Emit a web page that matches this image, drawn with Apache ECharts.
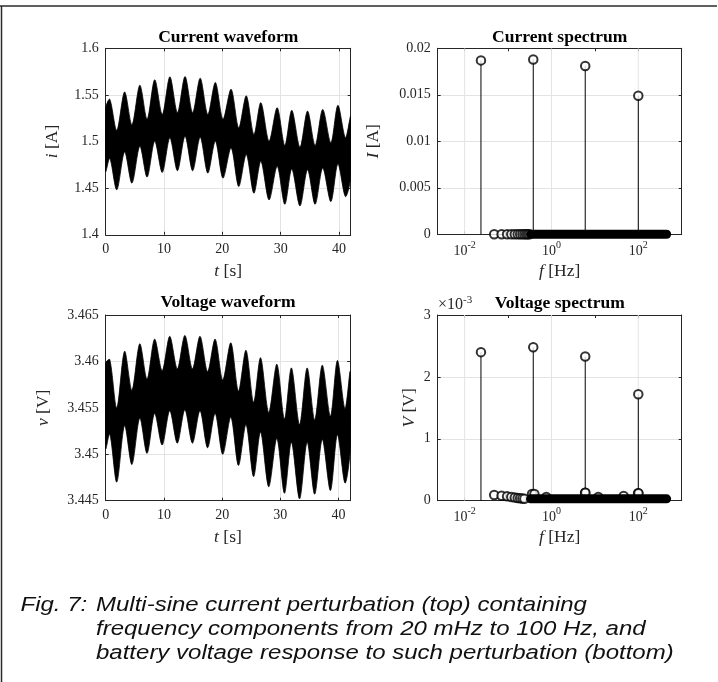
<!DOCTYPE html>
<html><head><meta charset="utf-8">
<script src="https://cdn.jsdelivr.net/npm/echarts@6/dist/echarts.min.js"></script>
<style>html,body{margin:0;padding:0;background:#fff}#c{width:718px;height:682px}</style>
</head><body><div id="c"></div>
<script>
// ---- data ----
const waveT = [0, 0.7, 1.9, 3.24, 4.5, 5.85, 7.1, 8.4, 9.7, 11.0, 12.3, 13.6, 14.9, 16.2, 17.5, 18.8, 20.1,
  21.5, 22.8, 24.1, 25.4, 26.6, 28.0, 29.4, 30.7, 31.9, 33.3, 34.6, 35.9, 37.2, 38.6, 39.8, 41.1, 42];
const curUpper = [1.536, 1.5453, 1.512, 1.5532, 1.518, 1.5604, 1.524, 1.5662, 1.529, 1.5694, 1.531, 1.5698, 1.531,
  1.568, 1.529, 1.5633, 1.524, 1.5561, 1.5147, 1.549, 1.5076, 1.5417, 1.5004, 1.5363, 1.4957, 1.5335, 1.4939,
  1.5327, 1.4957, 1.5345, 1.4986, 1.5388, 1.504, 1.527];
const curLower = [1.468, 1.482, 1.4482, 1.4888, 1.4554, 1.495, 1.4619, 1.5004, 1.4669, 1.504, 1.4687, 1.5058,
  1.4687, 1.5047, 1.4662, 1.5004, 1.4608, 1.4932, 1.4518, 1.486, 1.4446, 1.4788, 1.4374, 1.4734, 1.4327, 1.4705,
  1.4309, 1.4698, 1.4327, 1.4716, 1.4356, 1.4759, 1.441, 1.462];
const voltUpper = [3.4598, 3.4602, 3.455, 3.4611, 3.4569, 3.4619, 3.4581, 3.4624, 3.459, 3.4627, 3.4592, 3.4628,
  3.4592, 3.4627, 3.4589, 3.4624, 3.458, 3.462, 3.4568, 3.4612, 3.4556, 3.4604, 3.4545, 3.4597, 3.4538, 3.4593,
  3.4532, 3.4593, 3.4537, 3.4596, 3.4541, 3.4601, 3.4549, 3.4589];
const voltLower = [3.4506, 3.4522, 3.447, 3.4531, 3.4489, 3.4539, 3.4501, 3.4544, 3.451, 3.4547, 3.4512, 3.4548,
  3.4512, 3.4547, 3.4507, 3.4544, 3.45, 3.454, 3.4488, 3.4532, 3.4476, 3.4524, 3.4465, 3.4517, 3.4458, 3.4513,
  3.4452, 3.4513, 3.4457, 3.4516, 3.4461, 3.4521, 3.4469, 3.4505];

const stemFreq = [0.0238, 0.381, 6.0, 100];
const curStem = [0.0187, 0.0188, 0.0181, 0.0149];
const voltStem = [0.00240, 0.00248, 0.00233, 0.00172];
const zeroFreq = [0.048, 0.071, 0.095, 0.119, 0.143, 0.167, 0.19, 0.214, 0.238, 0.262, 0.286, 0.31];
const bandFreq = [0.33, 450];
const voltSmallFreq = [0.048, 0.071, 0.095, 0.119, 0.143, 0.167, 0.19, 0.214, 0.238, 0.357, 0.405, 0.76, 5.95, 6.05, 12, 46, 99, 101];
const voltSmallVal = [0.000092, 0.00008, 0.00007, 0.00006, 0.00005, 0.000045, 0.00004, 0.000035, 0.00003, 0.00011, 0.00011,
  0.00006, 0.00013, 0.00013, 0.00006, 0.000075, 0.00012, 0.00012];
const voltBandLevel = 0.00003;
const freqGridTicks = [0.01, 1, 100];   // labelled decades (10^-2, 10^0, 10^2)

const titles = ['Current waveform', 'Current spectrum', 'Voltage waveform', 'Voltage spectrum'];
const captionLead = 'Fig. 7:';
const caption = ['Multi-sine current perturbation (top) containing',
  'frequency components from 20 mHz to 100 Hz, and',
  'battery voltage response to such perturbation (bottom)'];

// ---- chart ----
const SERIF = '"Liberation Serif", "Times New Roman", serif';
const AX = '#262626';
const GRIDC = '#e3e3e3';
const TICK = 14, NAME = 17.5;
const grids = [
  {left: 105.7, top: 48.3, width: 245, height: 186.5},
  {left: 437.7, top: 48.3, width: 244, height: 186},
  {left: 105.7, top: 315, width: 244.5, height: 185.7},
  {left: 437.7, top: 315, width: 244, height: 185.7}
];
const rich = {
  it: {fontFamily: SERIF, fontSize: NAME, color: AX, fontStyle: 'italic'}
};
const logRich = {
  b: {fontFamily: SERIF, fontSize: TICK, color: AX, lineHeight: 22},
  s: {fontFamily: SERIF, fontSize: 10, color: AX, verticalAlign: 'top', lineHeight: 11}
};
function baseAxis(gi, pos) {
  return {
    gridIndex: gi, position: pos,
    axisLine: {show: true, onZero: false, lineStyle: {color: AX, width: 1}},
    axisTick: {show: true, inside: true, length: 3, lineStyle: {color: AX}},
    splitLine: {show: false},
    axisLabel: {show: false},
    name: ''
  };
}
const xAxis = [], yAxis = [];
function addX(gi, opt, name, split) {
  const a = Object.assign(baseAxis(gi, 'bottom'), opt, {
    splitLine: {show: split, lineStyle: {color: GRIDC, width: 1}},
    name: name, nameLocation: 'middle', nameGap: 28,
    nameTextStyle: {fontFamily: SERIF, fontSize: NAME, color: AX, rich: rich}
  });
  a.axisLabel = Object.assign({show: true, fontFamily: SERIF, fontSize: TICK, color: AX, margin: 8,
    showMaxLabel: false}, opt.axisLabel || {});
  xAxis.push(a);
  const b = Object.assign(baseAxis(gi, 'top'), opt);
  b.axisLabel = {show: false};
  xAxis.push(b);
}
function addY(gi, opt, name, gap) {
  const a = Object.assign(baseAxis(gi, 'left'), opt, {
    splitLine: {show: true, lineStyle: {color: GRIDC, width: 1}},
    name: name, nameLocation: 'middle', nameGap: gap,
    nameTextStyle: {fontFamily: SERIF, fontSize: NAME, color: AX, rich: rich}
  });
  a.axisLabel = Object.assign({show: true, fontFamily: SERIF, fontSize: TICK, color: AX, margin: 7}, opt.axisLabel || {});
  yAxis.push(a);
  const b = Object.assign(baseAxis(gi, 'right'), opt);
  b.axisLabel = {show: false};
  yAxis.push(b);
}
const logOpt = {type: 'log', logBase: 10, min: 0.0024, max: 1000, splitNumber: 3,
  axisLabel: {showMinLabel: false, showMaxLabel: false, rich: logRich, margin: 6,
    formatter: v => {
      const e = Math.round(Math.log10(v));
      return freqGridTicks.some(t => Math.abs(Math.log10(t) - e) < 1e-6) ? '{b|10}{s|' + e + '}' : '';
    }}};
addX(0, {type: 'value', min: 0, max: 42, interval: 10}, '{it|t} [s]', true);
addX(1, logOpt, '{it|f} [Hz]', false);
addX(2, {type: 'value', min: 0, max: 42, interval: 10}, '{it|t} [s]', true);
addX(3, logOpt, '{it|f} [Hz]', false);
addY(0, {type: 'value', min: 1.4, max: 1.6, interval: 0.05}, '{it|i} [A]', 44);
addY(1, {type: 'value', min: 0, max: 0.02, interval: 0.005}, '{it|I} [A]', 55);
addY(2, {type: 'value', min: 3.445, max: 3.465, interval: 0.005}, '{it|v} [V]', 53);
addY(3, {type: 'value', min: 0, max: 0.003, interval: 0.001,
  axisLabel: {formatter: v => String(Math.round(v * 1000))}}, '{it|V} [V]', 19);

function envelope(gi, U, L) {
  return {
    type: 'custom', xAxisIndex: gi * 2, yAxisIndex: gi * 2, silent: true, clip: true, z: 3,
    data: waveT.map((t, i) => [t, U[i], L[i]]),
    encode: {x: 0, y: [1, 2]},
    renderItem: (params, api) => {
      if (params.dataIndex !== 0) return null;
      const up = waveT.map((t, i) => api.coord([t, U[i]]));
      const lo = waveT.map((t, i) => api.coord([t, L[i]]));
      const pts = up.concat(lo.reverse());
      return {type: 'polygon', shape: {points: pts, smooth: 0.3}, style: {fill: '#000', stroke: '#000', lineWidth: 0.8}};
    }
  };
}
function freqGrid(gi) {
  return {
    type: 'custom', xAxisIndex: gi * 2, yAxisIndex: gi * 2, silent: true, clip: true, z: 1,
    data: freqGridTicks.map(f => [f, 0]),
    encode: {x: 0, y: 1},
    renderItem: (params, api) => {
      const cs = params.coordSys;
      const x = api.coord([api.value(0), 0])[0];
      return {type: 'line', shape: {x1: x, y1: cs.y, x2: x, y2: cs.y + cs.height}, style: {stroke: GRIDC, lineWidth: 1}};
    }
  };
}
function stems(gi, vals) {
  return {
    type: 'custom', xAxisIndex: gi * 2, yAxisIndex: gi * 2, silent: true, clip: false, z: 3,
    data: stemFreq.map((f, i) => [f, vals[i]]),
    encode: {x: 0, y: 1},
    renderItem: (params, api) => {
      const p0 = api.coord([api.value(0), 0]);
      const p1 = api.coord([api.value(0), api.value(1)]);
      return {type: 'line', shape: {x1: p0[0], y1: p0[1], x2: p1[0], y2: p1[1]}, style: {stroke: '#000', lineWidth: 1}};
    }
  };
}
function circles(gi, data, z) {
  return {
    type: 'scatter', xAxisIndex: gi * 2, yAxisIndex: gi * 2, silent: true, clip: false, z: z,
    symbol: 'emptyCircle', symbolSize: 8.5, data: data,
    itemStyle: {color: '#000', borderWidth: 1.1}
  };
}
function band(gi, level) {
  return {
    type: 'line', xAxisIndex: gi * 2, yAxisIndex: gi * 2, silent: true, clip: false, z: 5,
    showSymbol: false, symbol: 'none', data: bandFreq.map(f => [f, level]),
    lineStyle: {color: '#000', width: 9, cap: 'round'}
  };
}
const series = [
  envelope(0, curUpper, curLower),
  envelope(2, voltUpper, voltLower),
  freqGrid(1),
  freqGrid(3),
  stems(1, curStem),
  circles(1, zeroFreq.map(f => [f, 0]), 4),
  band(1, 0),
  circles(1, stemFreq.map((f, i) => [f, curStem[i]]), 6),
  stems(3, voltStem),
  circles(3, voltSmallFreq.map((f, i) => [f, voltSmallVal[i]]), 4),
  band(3, voltBandLevel),
  circles(3, stemFreq.map((f, i) => [f, voltStem[i]]), 6)
];

const graphic = [];
const titlePos = [[228.2, 37.5], [559.7, 37.5], [228, 302], [559.7, 303]];
titles.forEach((t, i) => graphic.push({type: 'text', x: titlePos[i][0], y: titlePos[i][1], silent: true,
  style: {text: t, font: 'bold 17.5px ' + SERIF, fill: '#000', textAlign: 'center', textVerticalAlign: 'middle'}}));
graphic.push({type: 'text', x: 438, y: 305, silent: true,
  style: {text: '{a|\u00d710}{s|-3}', textAlign: 'left', textVerticalAlign: 'middle',
    rich: {a: {fontFamily: SERIF, fontSize: 16, fill: AX, lineHeight: 20},
           s: {fontFamily: SERIF, fontSize: 11, fill: AX, verticalAlign: 'top', lineHeight: 11}}}});
const CAP = 'italic 20px "Liberation Sans", Arial, sans-serif';
graphic.push({type: 'text', x: 20.5, y: 605, scaleX: 1.2, silent: true,
  style: {text: captionLead, font: CAP, fill: '#111', textAlign: 'left', textVerticalAlign: 'middle'}});
caption.forEach((c, i) => graphic.push({type: 'text', x: 96, y: 605 + i * 24.3, scaleX: 1.2, silent: true,
  style: {text: c, font: CAP, fill: '#111', textAlign: 'left', textVerticalAlign: 'middle'}}));
graphic.push({type: 'line', silent: true, shape: {x1: 0, y1: 6, x2: 717, y2: 6}, style: {stroke: '#2b2b2b', lineWidth: 1.5}});
graphic.push({type: 'line', silent: true, shape: {x1: 1.5, y1: 6, x2: 1.5, y2: 682}, style: {stroke: '#2b2b2b', lineWidth: 1.5}});

const chart = echarts.init(document.getElementById('c'));
chart.setOption({
  animation: false,
  backgroundColor: '#fff',
  grid: grids,
  xAxis: xAxis,
  yAxis: yAxis,
  series: series,
  graphic: graphic
});
</script></body></html>
